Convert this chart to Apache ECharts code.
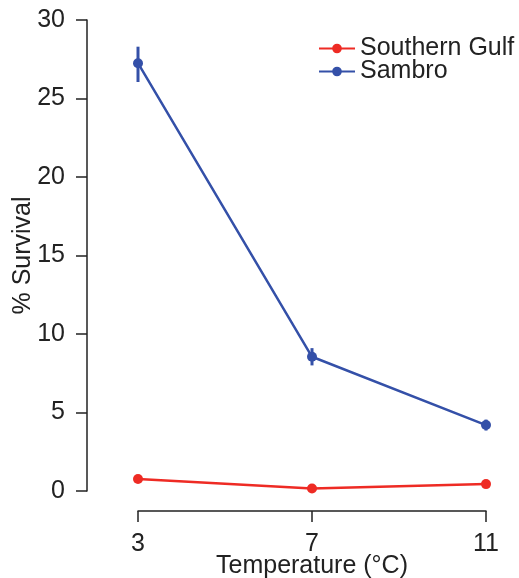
<!DOCTYPE html>
<html>
<head>
<meta charset="utf-8">
<script src="https://cdn.jsdelivr.net/npm/echarts@6/dist/echarts.min.js"></script>
<style>html,body{margin:0;padding:0;background:#fff;}#c{width:519px;height:578px;}</style>
</head>
<body>
<div id="c"></div>
<script>
const temperatures = [3, 7, 11];
const southernGulf = [0.77, 0.16, 0.44];
const sambro = [27.25, 8.55, 4.2];
const sambroLow = [26.05, 8.0, 3.85];
const sambroHigh = [28.3, 9.1, 4.55];
const yTicks = [0, 5, 10, 15, 20, 25, 30];
const xTicks = [3, 7, 11];

const RED = '#ee2b24';
const BLUE = '#3450a8';
const AXIS = '#222';
const FONT = 'Liberation Sans, Arial, sans-serif';

const chart = echarts.init(document.getElementById('c'));
chart.setOption({
  animation: false,
  backgroundColor: '#fff',
  textStyle: { fontFamily: FONT },
  grid: { left: 138, right: 33, top: 20, bottom: 87, containLabel: false, outerBoundsMode: 'none' },
  legend: {
    orient: 'vertical',
    left: 313,
    top: 31,
    itemWidth: 36,
    itemHeight: 12,
    itemGap: -2,
    itemTextGap: 8,
    data: ['Southern Gulf', 'Sambro'],
    textStyle: { fontSize: 25, color: '#222', lineHeight: 23, fontFamily: FONT }
  },
  xAxis: {
    type: 'value',
    min: xTicks[0], max: xTicks[xTicks.length - 1], interval: 4,
    offset: 20,
    name: 'Temperature (°C)',
    nameLocation: 'middle',
    nameGap: 43,
    nameMoveOverlap: false,
    nameTextStyle: { fontSize: 25, color: '#222', fontFamily: FONT },
    axisLine: { show: true, onZero: false, lineStyle: { color: AXIS, width: 1.5 } },
    axisTick: { show: true, length: 11, lineStyle: { color: AXIS, width: 1.5 } },
    axisLabel: { fontSize: 25, color: '#222', margin: 21, fontFamily: FONT },
    splitLine: { show: false }
  },
  yAxis: {
    type: 'value',
    min: yTicks[0], max: yTicks[yTicks.length - 1], interval: 5,
    offset: 51,
    name: '% Survival',
    nameLocation: 'middle',
    nameGap: 51,
    nameMoveOverlap: false,
    nameTextStyle: { fontSize: 25, color: '#222', fontFamily: FONT },
    axisLine: { show: true, onZero: false, lineStyle: { color: AXIS, width: 1.5 } },
    axisTick: { show: true, length: 11, lineStyle: { color: AXIS, width: 1.5 } },
    axisLabel: { fontSize: 25, color: '#222', margin: 22, fontFamily: FONT },
    splitLine: { show: false }
  },
  series: [
    {
      name: 'Southern Gulf',
      type: 'line',
      data: temperatures.map((t, i) => [t, southernGulf[i]]),
      symbol: 'circle',
      symbolSize: 10,
      lineStyle: { color: RED, width: 2.5 },
      itemStyle: { color: RED },
      z: 3
    },
    {
      name: 'Sambro',
      type: 'line',
      data: temperatures.map((t, i) => [t, sambro[i]]),
      symbol: 'circle',
      symbolSize: 10,
      lineStyle: { color: BLUE, width: 2.5 },
      itemStyle: { color: BLUE },
      z: 4
    },
    {
      name: 'Sambro error',
      type: 'custom',
      data: temperatures.map((t, i) => [t, sambroLow[i], sambroHigh[i]]),
      renderItem: function (params, api) {
        const lo = api.coord([api.value(0), api.value(1)]);
        const hi = api.coord([api.value(0), api.value(2)]);
        return {
          type: 'line',
          shape: { x1: lo[0], y1: lo[1], x2: hi[0], y2: hi[1] },
          style: { stroke: BLUE, lineWidth: 3 }
        };
      },
      z: 5,
      silent: true
    }
  ]
});
</script>
</body>
</html>
